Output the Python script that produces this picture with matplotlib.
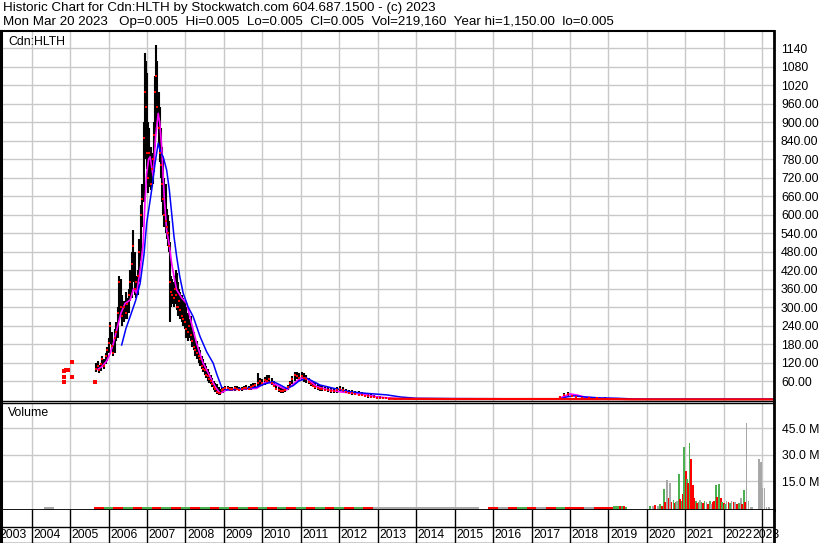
import numpy as np
import matplotlib
matplotlib.use('Agg')
import matplotlib.pyplot as plt

# Data
#################################################################################################################

# weekly-ish bars: date (decimal year), high, low, close
bar_t = [2005.68, 2005.72, 2005.76, 2005.80, 2005.84, 2005.88, 2005.92, 2005.96, 2006.00, 2006.04,
         2006.08, 2006.12, 2006.16, 2006.20, 2006.24, 2006.28, 2006.32, 2006.36, 2006.40, 2006.44,
         2006.48, 2006.52, 2006.56, 2006.60, 2006.64, 2006.68, 2006.72, 2006.76, 2006.80, 2006.84,
         2006.88, 2006.91, 2006.94, 2006.97, 2007.00, 2007.03, 2007.06, 2007.09, 2007.12, 2007.15,
         2007.18, 2007.21, 2007.24, 2007.27, 2007.30, 2007.33, 2007.36, 2007.39, 2007.42, 2007.45,
         2007.48, 2007.51, 2007.54, 2007.57, 2007.60, 2007.63, 2007.66, 2007.69, 2007.72, 2007.75,
         2007.78, 2007.81, 2007.84, 2007.87, 2007.90, 2007.94, 2007.98, 2008.02, 2008.06, 2008.10,
         2008.14, 2008.18, 2008.22, 2008.26, 2008.30, 2008.34, 2008.38, 2008.42, 2008.46, 2008.50,
         2008.54, 2008.58, 2008.62, 2008.66, 2008.70, 2008.74, 2008.78, 2008.82, 2008.86, 2008.90,
         2008.94, 2008.98, 2009.04, 2009.10, 2009.16, 2009.22, 2009.28, 2009.34, 2009.40, 2009.46,
         2009.52, 2009.58, 2009.64, 2009.70, 2009.76, 2009.82, 2009.88, 2009.94, 2010.00, 2010.06,
         2010.12, 2010.18, 2010.24, 2010.30, 2010.36, 2010.42, 2010.48, 2010.54, 2010.60, 2010.66,
         2010.72, 2010.78, 2010.84, 2010.90, 2010.96, 2011.02, 2011.08, 2011.14, 2011.20, 2011.26,
         2011.32, 2011.38, 2011.44, 2011.50, 2011.56, 2011.62, 2011.70, 2011.78, 2011.86, 2011.94,
         2012.02, 2012.10, 2012.18, 2012.26, 2012.34, 2012.42, 2012.50, 2012.58, 2012.66, 2012.74,
         2012.82, 2012.90, 2012.98, 2013.06, 2013.14, 2013.22, 2013.30, 2013.45, 2013.60, 2013.80,
         2014.00, 2014.25, 2014.50, 2014.75, 2015.00, 2015.25, 2015.50, 2015.75, 2016.00, 2016.25,
         2016.50, 2016.75, 2017.00, 2017.25, 2017.50, 2017.75, 2017.85, 2017.95, 2018.05, 2018.15,
         2018.30, 2018.50, 2018.70, 2018.90, 2019.10, 2019.30]
bar_hi = [118, 125, 112, 120, 140, 130, 150, 170, 200, 250,
          220, 190, 230, 250, 300, 400, 390, 340, 320, 350,
          330, 360, 420, 480, 550, 480, 400, 420, 520, 630,
          700, 900, 1125, 1100, 1060, 900, 880, 820, 790, 800,
          900, 1050, 1151, 1100, 1000, 950, 880, 820, 780, 720,
          700, 620, 600, 580, 510, 400, 390, 380, 400, 420,
          410, 380, 360, 350, 340, 330, 320, 300, 280, 260,
          270, 240, 220, 200, 190, 170, 160, 140, 130, 120,
          110, 100, 90, 80, 70, 60, 55, 50, 40, 35,
          40, 42, 45, 44, 42, 40, 43, 44, 42, 41,
          44, 46, 45, 50, 52, 55, 85, 70, 65, 74,
          78, 80, 70, 60, 48, 42, 38, 36, 40, 48,
          60, 75, 90, 88, 85, 88, 85, 80, 70, 62,
          58, 55, 50, 48, 45, 42, 40, 38, 36, 40,
          45, 42, 35, 32, 30, 28, 27, 25, 22, 20,
          18, 15, 12, 10, 9, 8, 6, 5, 4, 4,
          6, 4, 5, 3, 4, 3, 5, 3, 4, 3,
          4, 3, 3, 4, 3, 12, 20, 23, 18, 12,
          9, 7, 6, 7, 5, 4]
bar_lo = [88, 95, 85, 92, 105, 100, 115, 125, 150, 180,
          160, 140, 150, 190, 200, 260, 280, 240, 250, 260,
          260, 280, 320, 330, 380, 340, 330, 340, 380, 450,
          560, 640, 800, 780, 750, 670, 690, 680, 690, 700,
          740, 820, 880, 900, 820, 770, 720, 640, 600, 560,
          540, 520, 500, 480, 250, 300, 310, 300, 310, 320,
          290, 270, 280, 260, 250, 240, 230, 200, 190, 200,
          190, 170, 160, 140, 130, 120, 110, 100, 90, 80,
          70, 60, 55, 50, 40, 30, 25, 18, 15, 14,
          20, 22, 28, 30, 28, 27, 29, 30, 28, 27,
          30, 31, 30, 32, 35, 38, 40, 45, 45, 48,
          50, 52, 48, 40, 30, 25, 22, 20, 24, 30,
          40, 50, 60, 65, 60, 62, 58, 55, 50, 45,
          40, 35, 30, 28, 28, 26, 25, 22, 20, 22,
          25, 24, 20, 18, 15, 14, 12, 10, 8, 6,
          5, 4, 3, 3, 2, 2, 1.5, 1, 1, 0.5,
          1, 0.5, 1, 0.5, 0.5, 0.5, 1, 0.5, 0.5, 0.5,
          0.5, 0.5, 0.5, 0.5, 0.5, 3, 8, 10, 8, 5,
          3, 2, 2, 1, 1, 0.5]
bar_cl = [100, 110, 95, 115, 130, 110, 140, 160, 185, 240,
          175, 150, 200, 220, 280, 380, 300, 270, 300, 280,
          310, 340, 380, 440, 500, 360, 380, 400, 480, 600,
          650, 850, 1000, 950, 800, 720, 800, 700, 750, 780,
          860, 1000, 1050, 950, 880, 800, 760, 700, 650, 600,
          580, 560, 540, 500, 380, 350, 340, 330, 360, 340,
          300, 300, 320, 290, 270, 260, 250, 230, 220, 240,
          210, 190, 170, 160, 150, 140, 130, 110, 100, 95,
          80, 75, 65, 60, 50, 40, 35, 25, 22, 20,
          30, 35, 38, 36, 34, 33, 36, 35, 32, 34,
          36, 38, 35, 40, 45, 48, 55, 60, 55, 62,
          60, 65, 55, 45, 35, 30, 28, 26, 32, 40,
          55, 65, 80, 75, 70, 75, 70, 65, 58, 50,
          45, 42, 38, 35, 34, 32, 30, 28, 26, 30,
          35, 30, 25, 22, 20, 18, 16, 14, 12, 10,
          8, 7, 6, 5, 4, 4, 3, 2, 2, 1.5,
          2, 1.5, 2, 1.5, 1.5, 1.5, 2, 1.5, 1.5, 1.5,
          1.5, 1.5, 1.5, 1.5, 1.5, 8, 15, 18, 12, 8,
          6, 5, 4, 3, 2, 1]

# isolated early trades (close marks only)
dot_t = [2004.84, 2004.89, 2004.95, 2004.84, 2004.84, 2005.04, 2005.06, 2005.65]
dot_c = [93, 96, 96, 74, 58, 122, 74, 58]

# closes once the stock went flat
tail_t = [2013.30, 2014.00, 2015.00, 2016.00, 2017.00, 2017.70, 2019.30, 2019.50, 2020.00, 2021.00,
          2022.00, 2023.00, 2023.30]
tail_c = [2.5, 2, 1.5, 1.5, 1.5, 1.5, 1, 0.5, 0.3, 0.3,
          0.3, 0.3, 0.3]

# short moving average (magenta)
ma1_t = [2005.72, 2005.82, 2005.95, 2006.04, 2006.12, 2006.21, 2006.32, 2006.43, 2006.56, 2006.65,
         2006.73, 2006.82, 2006.90, 2006.95, 2006.99, 2007.04, 2007.08, 2007.16, 2007.22, 2007.29,
         2007.33, 2007.38, 2007.45, 2007.51, 2007.58, 2007.64, 2007.70, 2007.77, 2007.90, 2008.03,
         2008.15, 2008.29, 2008.45, 2008.64, 2008.78, 2008.90, 2009.07, 2009.50, 2009.85, 2010.11,
         2010.37, 2010.63, 2010.85, 2010.98, 2011.15, 2011.41, 2011.70, 2012.02, 2012.40, 2012.71,
         2013.00, 2013.58, 2017.70, 2017.83, 2018.00, 2018.20, 2018.35, 2018.60, 2019.00, 2019.30]
ma1_v = [98, 106, 125, 150, 180, 226, 280, 312, 323, 360,
         345, 420, 507, 650, 734, 780, 788, 723, 850, 929,
         900, 821, 650, 550, 500, 442, 400, 356, 330, 312,
         250, 182, 120, 74, 40, 20, 31, 34, 36, 58,
         47, 31, 55, 69, 69, 42, 32, 25, 20, 15,
         8, 2, 2, 9, 18, 14, 9, 5, 3, 2]

# long moving average (blue)
ma2_t = [2006.34, 2006.45, 2006.56, 2006.70, 2006.82, 2006.92, 2006.99, 2007.06, 2007.12, 2007.20,
         2007.29, 2007.36, 2007.42, 2007.51, 2007.58, 2007.64, 2007.70, 2007.77, 2007.85, 2007.94,
         2008.07, 2008.20, 2008.38, 2008.55, 2008.72, 2008.82, 2008.94, 2009.07, 2009.24, 2009.50,
         2009.85, 2010.05, 2010.28, 2010.45, 2010.63, 2010.80, 2010.95, 2011.15, 2011.30, 2011.50,
         2011.90, 2012.28, 2012.70, 2013.23, 2013.60, 2014.01, 2015.00, 2016.00, 2017.00, 2017.74,
         2017.90, 2018.09, 2018.40, 2018.80, 2019.22, 2019.60, 2020.00, 2023.30]
ma2_v = [177, 230, 269, 320, 377, 470, 572, 630, 680, 760,
         832, 800, 788, 745, 680, 605, 530, 464, 400, 345,
         300, 269, 204, 155, 118, 80, 40, 31, 33, 35,
         40, 50, 58, 48, 36, 45, 60, 69, 60, 47,
         35, 25, 20, 15, 8, 4, 3, 2.5, 2, 2,
         8, 12, 8, 5, 4, 2, 1.5, 1.5]

# thin volume (millions) while the stock was quiet, quarterly
base_t = [2004.45,
          2005.75, 2006.00, 2006.25, 2006.50, 2006.75, 2007.00, 2007.25, 2007.50, 2007.75, 2008.00,
          2008.25, 2008.50, 2008.75, 2009.00, 2009.25, 2009.50, 2009.75, 2010.00, 2010.25, 2010.50,
          2010.75, 2011.00, 2011.25, 2011.50, 2011.75, 2012.00, 2012.25, 2012.50, 2012.75, 2013.00,
          2013.25, 2013.50, 2013.75, 2014.00, 2014.25, 2014.50, 2014.75, 2015.00, 2015.25, 2015.50,
          2016.00, 2016.25, 2016.50, 2016.75, 2017.00, 2017.25, 2017.50, 2017.75, 2018.00, 2018.25,
          2018.50, 2018.75, 2019.00, 2019.25]
base_v = [0.3,
          0.4, 0.5, 0.4, 0.5, 0.4, 0.5, 0.4, 0.5, 0.4, 0.5,
          0.4, 0.5, 0.4, 0.5, 0.4, 0.5, 0.4, 0.5, 0.4, 0.5,
          0.4, 0.5, 0.4, 0.5, 0.4, 0.5, 0.4, 0.5, 0.4, 0.4,
          0.4, 0.4, 0.4, 0.4, 0.4, 0.4, 0.4, 0.4, 0.4, 0.4,
          0.4, 0.4, 0.4, 0.4, 0.4, 0.4, 0.4, 0.4, 0.4, 0.4,
          0.4, 0.4, 0.5, 1.0]
base_c = ['k',
          'r', 'g', 'r', 'g', 'r', 'g', 'r', 'g', 'r', 'g',
          'r', 'g', 'r', 'g', 'r', 'g', 'r', 'g', 'r', 'g',
          'r', 'g', 'r', 'g', 'r', 'g', 'r', 'g', 'r', 'k',
          'k', 'k', 'k', 'k', 'k', 'k', 'k', 'k', 'k', 'k',
          'r', 'k', 'r', 'g', 'r', 'k', 'r', 'g', 'r', 'r',
          'k', 'r', 'r', 'g']

# weekly volume (millions) from 2019 on, g = up, r = down, k = unchanged
vol_t = [2019.30, 2019.35, 2019.40, 2019.45,
         2020.08, 2020.15, 2020.22, 2020.28, 2020.34, 2020.40, 2020.45, 2020.48, 2020.52, 2020.56,
         2020.60, 2020.64, 2020.69, 2020.73, 2020.76, 2020.79, 2020.83, 2020.86, 2020.90, 2020.93,
         2020.96, 2021.01, 2021.05, 2021.07, 2021.11, 2021.15, 2021.20, 2021.24, 2021.28, 2021.31,
         2021.34, 2021.38, 2021.42, 2021.46, 2021.50, 2021.55, 2021.59, 2021.64, 2021.67, 2021.71,
         2021.75, 2021.79, 2021.83, 2021.87, 2021.92, 2021.96, 2022.00, 2022.03, 2022.07, 2022.12,
         2022.16, 2022.20, 2022.25, 2022.30, 2022.35, 2022.40, 2022.44, 2022.48, 2022.52, 2022.56,
         2022.59, 2022.64, 2022.70, 2022.75, 2022.92, 2022.96, 2023.00, 2023.06, 2023.11, 2023.17]
vol_v = [0.8, 0.6, 1.0, 0.5,
         0.8, 1.0, 1.5, 1.2, 2.0, 1.2, 10.4, 3.0, 15.7, 5.5,
         13.8, 3.0, 4.5, 2.5, 3.0, 4.0, 19.0, 5.0, 4.0, 8.0,
         34.4, 21.0, 16.5, 14.0, 36.9, 27.7, 12.6, 5.5, 4.0, 2.5,
         3.0, 4.2, 3.0, 2.5, 4.0, 3.0, 2.0, 4.0, 2.0, 3.0,
         4.0, 12.9, 6.0, 13.3, 5.5, 3.0, 2.5, 2.0, 4.0, 3.0,
         2.5, 4.0, 3.0, 3.0, 2.0, 2.5, 5.5, 2.0, 9.8, 3.0,
         47.9, 4.0, 0.5, 0.5, 27.7, 26.0, 11.0, 11.0, 0.5, 0.5]
vol_c = ['r', 'g', 'r', 'g',
         'g', 'k', 'r', 'k', 'g', 'r', 'g', 'r', 'k', 'r',
         'k', 'r', 'g', 'r', 'g', 'k', 'g', 'r', 'g', 'r',
         'g', 'r', 'g', 'r', 'g', 'r', 'r', 'r', 'g', 'r',
         'g', 'k', 'g', 'r', 'g', 'k', 'r', 'g', 'k', 'r',
         'r', 'g', 'r', 'g', 'r', 'g', 'r', 'g', 'k', 'r',
         'g', 'k', 'r', 'k', 'r', 'g', 'k', 'r', 'g', 'r',
         'k', 'k', 'k', 'k', 'k', 'k', 'k', 'k', 'k', 'k']

years = list(range(2004, 2024))
price_ticks = [60, 120, 180, 240, 300, 360, 420, 480, 540, 600, 660, 720, 780, 840, 900, 960, 1020, 1080, 1140]
price_labels = ['60.00', '120.00', '180.00', '240.00', '300.00', '360.00', '420.00', '480.00', '540.00',
                '600.00', '660.00', '720.00', '780.00', '840.00', '900.00', '960.00', '1020', '1080', '1140']
vol_ticks = [15, 30, 45]
vol_labels = ['15.0 M', '30.0 M', '45.0 M']

title1 = 'Historic Chart for Cdn:HLTH by Stockwatch.com 604.687.1500 - (c) 2023'
title2 = 'Mon Mar 20 2023   Op=0.005  Hi=0.005  Lo=0.005  Cl=0.005  Vol=219,160  Year hi=1,150.00  lo=0.005'

# Plot
#################################################################################################################

W, H = 830, 543
XL = (2003.2016, 2023.306)
GRID = '#c8c8c8'
FS = 8.8
colmap = {'g': '#4caf50', 'r': '#ff0000', 'k': '#a8a8a8'}


def px_box(x0, y0, x1, y1):
    # pixel box (top-left origin) -> figure fraction
    return [x0 / W, 1 - y1 / H, (x1 - x0) / W, (y1 - y0) / H]


def frame(ax, top=1.0, bottom=1.0):
    ax.spines['left'].set_linewidth(2.2)
    ax.spines['right'].set_linewidth(2.0)
    ax.spines['top'].set_linewidth(top)
    ax.spines['bottom'].set_linewidth(bottom)
    for s in ax.spines.values():
        s.set_color('k')


if __name__ == "__main__":
    plt.rcParams['font.family'] = ['Liberation Sans', 'DejaVu Sans']
    fig = plt.figure(figsize=(W / 100, H / 100), dpi=100)

    fig.text(3 / W, 1 - 8.5 / H, title1, fontsize=9.6, va='center', ha='left')
    fig.text(3 / W, 1 - 22 / H, title2, fontsize=9.6, va='center', ha='left')

    # price panel
    ax = fig.add_axes(px_box(1, 31, 774, 401))
    ax.set_xlim(XL)
    ax.set_ylim(-4.9, 1196.5)
    ax.set_xticks(years)
    ax.set_xticklabels([])
    ax.set_yticks(price_ticks)
    ax.set_yticklabels(price_labels)
    ax.yaxis.tick_right()
    ax.tick_params(axis='both', length=0)
    ax.tick_params(axis='y', pad=5, labelsize=FS)
    ax.grid(color=GRID, lw=1.0)
    ax.set_axisbelow(True)
    frame(ax, top=1.5, bottom=1.0)

    ax.vlines(bar_t, bar_lo, bar_hi, color='k', lw=1.5)
    ax.plot(ma1_t, ma1_v, color='#ff00ff', lw=1.2)
    ax.plot(ma2_t, ma2_v, color='#0000ff', lw=1.1)
    ax.plot(bar_t, bar_cl, 's', color='#ff0000', ms=2.0, mew=0)
    ax.plot(dot_t, dot_c, 's', color='#ff0000', ms=2.5, mew=0)
    ax.plot(tail_t, tail_c, color='#ff0000', lw=1.6)
    ax.text(8 / W, 1 - 42 / H, 'Cdn:HLTH', transform=fig.transFigure, fontsize=FS, va='center')

    # volume panel
    av = fig.add_axes(px_box(1, 402.7, 774, 509.5))
    av.set_xlim(XL)
    vb = -1.0
    av.set_ylim(vb, 59.5)
    av.bar(base_t, np.array(base_v) - vb, bottom=vb, width=0.25,
           color=[colmap[c] for c in base_c], lw=0)
    av.bar(vol_t, np.array(vol_v) - vb, bottom=vb, width=0.045,
           color=[colmap[c] for c in vol_c], lw=0)
    av.set_xticks(years)
    av.set_xticklabels([])
    av.set_yticks(vol_ticks)
    av.set_yticklabels(vol_labels)
    av.yaxis.tick_right()
    av.tick_params(axis='both', length=0)
    av.tick_params(axis='y', pad=5.5, labelsize=FS)
    av.grid(color=GRID, lw=1.0)
    av.set_axisbelow(True)
    frame(av, top=1.0, bottom=2.0)
    av.text(8 / W, 1 - 413 / H, 'Volume', transform=fig.transFigure, fontsize=FS, va='center')

    # year strip
    ay = fig.add_axes(px_box(1, 509.5, 774, 543))
    ay.set_xlim(XL)
    ay.set_ylim(0, 1)
    ay.set_xticks([])
    ay.set_yticks([])
    frame(ay, top=0, bottom=1.0)
    for yr in years:
        ay.axvline(yr, color='k', lw=1.0)
    ay.axhline(0.48, color='k', lw=1.0)
    ay.text(XL[0] - 0.03, 0.24, '2003', fontsize=FS, va='center', ha='left', clip_on=False)
    for yr in years[:-1]:
        ay.text(yr + 0.04, 0.24, str(yr), fontsize=FS, va='center', ha='left')
    ay.text(2023.46, 0.24, '2023', fontsize=FS, va='center', ha='right', clip_on=False)

    fig.savefig('out.png', dpi=100, facecolor='white')
